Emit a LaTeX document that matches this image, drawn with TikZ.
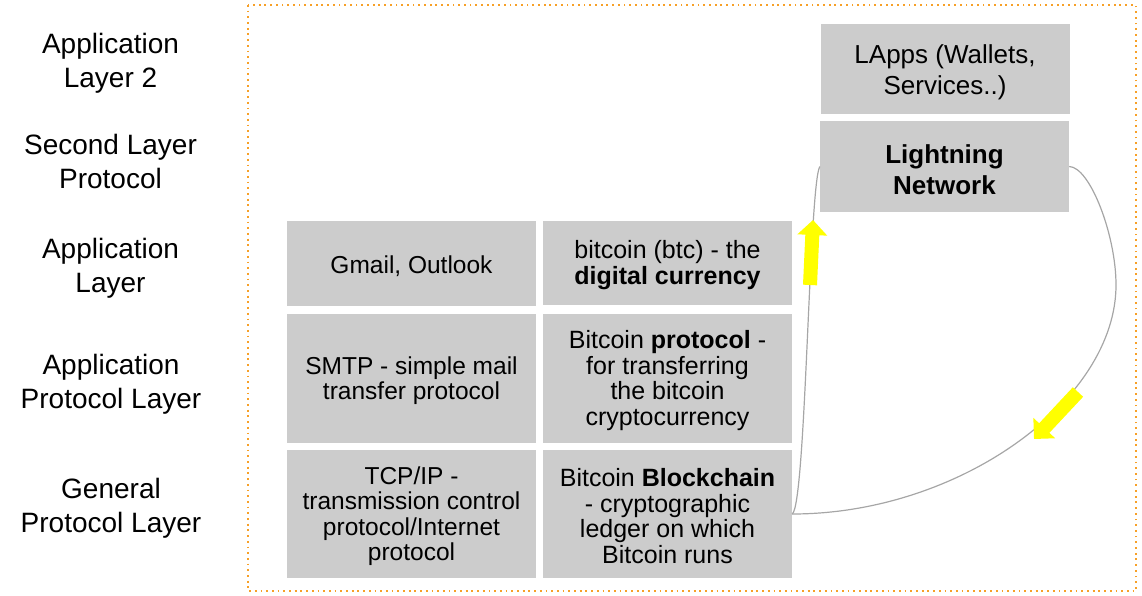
\documentclass[tikz,border=0pt]{standalone}
\usepackage{fontspec}
\setmainfont{Liberation Sans}
\usetikzlibrary{arrows.meta}
\definecolor{cellgray}{HTML}{CCCCCC}
\definecolor{framorange}{RGB}{247,160,40}
\definecolor{conngray}{HTML}{A6A6A6}
\definecolor{arryellow}{HTML}{FFFF00}
\newcommand{\padtop}{\rule{0pt}{22.5pt}}
\newcommand{\padtopbig}{\rule{0pt}{25pt}}
\begin{document}
\begin{tikzpicture}[x=1pt,y=-1pt,
  cell/.style={fill=cellgray, inner sep=0pt, align=center, minimum width=249pt},
  lcell/.style={cell, font=\fontsize{24.5}{25.5}\selectfont},
  rcell/.style={cell, font=\fontsize{25}{25.5}\selectfont},
  topcell/.style={cell, font=\fontsize{26}{31.5}\selectfont},
  layerlabel/.style={inner sep=0pt, align=center, font=\fontsize{28}{34}\selectfont},
  conn/.style={draw=conngray, line width=1.2pt},
  bigarrow/.style={draw=arryellow, line width=14pt, -{Triangle[length=15pt,width=29pt]}},
  frame/.style={draw=framorange, line width=1.8pt, dash pattern=on 1.8pt off 3.9pt}
]
\useasboundingbox (0,0) rectangle (1142,596);
\draw[frame] (248,5) rectangle (1136,591);

% layer labels
\node[layerlabel] (l1) at (110.5,63.5) {Application\\Layer 2};
\node[layerlabel] (l2) at (110.5,161.5) {Second Layer\\Protocol};
\node[layerlabel] (l3) at (110.5,268) {Application\\Layer};
\node[layerlabel] (l4) at (111,384) {Application\\Protocol Layer};
\node[layerlabel] (l5) at (111,508.5) {General\\Protocol Layer};

% grid cells
\node[lcell, minimum height=85pt] (gm) at (411.5,263.5) {\padtop Gmail, Outlook};
\node[rcell, minimum height=84pt] (dc) at (667.5,263) {\padtop bitcoin (btc) - the\\\textbf{digital currency}};
\node[lcell, minimum height=129pt] (sm) at (411.5,378.5) {\padtop SMTP - simple mail\\transfer protocol};
\node[rcell, minimum height=129pt] (bp) at (667.5,378.5) {\padtop Bitcoin \textbf{protocol} -\\for transferring\\the bitcoin\\cryptocurrency};
\node[lcell, minimum height=128pt] (tc) at (411.5,514) {\padtop TCP/IP -\\transmission control\\protocol/Internet\\protocol};
\node[rcell, minimum height=128pt] (bc) at (667.5,514) {\padtop Bitcoin \textbf{Blockchain}\\- cryptographic\\ledger on which\\Bitcoin runs};

% second layer cells
\node[topcell, minimum height=90pt] (la) at (945,69) {\padtopbig LApps (Wallets,\\Services..)};
\node[topcell, minimum height=91pt] (ln) at (944.5,166.5) {\padtopbig\textbf{Lightning}\\\textbf{Network}};

% connectors
\coordinate (bend) at (1116,285);
\draw[conn] (bc.east) .. controls (806,505) and (809,185) .. (ln.west);
\draw[conn] (ln.east) .. controls (1090,167) and (1116,235) .. (bend)
  .. controls (1116,400) and (960,514) .. (bc.east);

% yellow arrows
\coordinate (uptail) at (810,285);
\coordinate (uptip) at (813,220);
\coordinate (dntail) at (1078,392);
\coordinate (dntip) at (1034,439);
\draw[bigarrow] (uptail) -- (uptip);
\draw[bigarrow] (dntail) -- (dntip);
\end{tikzpicture}
\end{document}
